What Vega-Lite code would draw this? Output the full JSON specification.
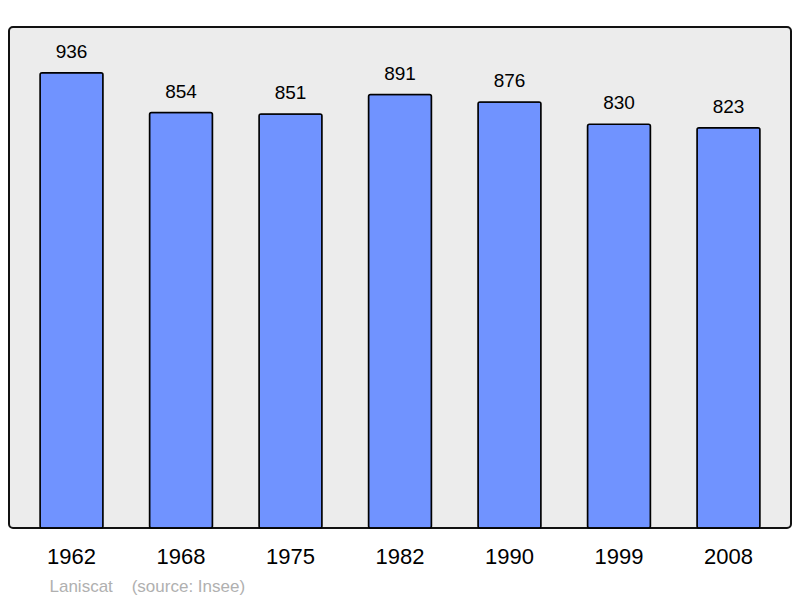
{
  "$schema": "https://vega.github.io/schema/vega-lite/v6.json",
  "description": "Population by census year",
  "width": 782,
  "height": 501,
  "autosize": {"type": "none"},
  "padding": {"left": 9, "top": 27, "right": 9, "bottom": 70},
  "background": "white",
  "config": {
    "font": "Liberation Sans",
    "view": {"fill": "#ececec", "stroke": "#111111", "strokeWidth": 2, "cornerRadius": 4}
  },
  "data": {
    "values": [
      {"year": "1962", "population": 936},
      {"year": "1968", "population": 854},
      {"year": "1975", "population": 851},
      {"year": "1982", "population": 891},
      {"year": "1990", "population": 876},
      {"year": "1999", "population": 830},
      {"year": "2008", "population": 823}
    ]
  },
  "encoding": {
    "x": {
      "field": "year",
      "type": "nominal",
      "sort": null,
      "scale": {"paddingInner": 0.425, "paddingOuter": 0.2835},
      "axis": {
        "labelAngle": 0,
        "labelFontSize": 22,
        "labelColor": "#000000",
        "labelPadding": 18,
        "ticks": false,
        "domain": false,
        "title": "Laniscat\u00a0\u00a0\u00a0\u00a0(source: Insee)",
        "titleFontSize": 17,
        "titleFontWeight": "normal",
        "titleColor": "#b0b0b0",
        "titleAnchor": "start",
        "titleAlign": "left",
        "titleBaseline": "alphabetic",
        "titleX": 40,
        "titleY": 63
      }
    },
    "y": {
      "field": "population",
      "type": "quantitative",
      "scale": {"domain": [0, 1030]},
      "axis": null
    }
  },
  "layer": [
    {
      "mark": {"type": "bar", "fill": "#7093ff", "stroke": "#000000", "strokeWidth": 1.5, "cornerRadius": 2}
    },
    {
      "mark": {"type": "text", "baseline": "alphabetic", "dy": -15, "fontSize": 19, "color": "#000000"},
      "encoding": {"text": {"field": "population", "type": "quantitative"}}
    }
  ]
}
